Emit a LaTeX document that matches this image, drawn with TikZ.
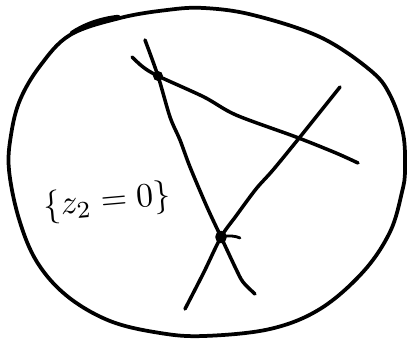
\documentclass[tikz,border=0pt]{standalone}
\usepackage{tikz}
\usetikzlibrary{calc}

\begin{document}
\begin{tikzpicture}[x=0.03cm, y=-0.03cm, line cap=round, line join=round,
  pen/.style={line width=3pt, black},
  dot/.style={circle, fill=black, inner sep=0pt, minimum size=0.3cm}]
  \useasboundingbox (0,0) rectangle (407,339);
  % oval
  \draw[pen, line width=3.2pt] plot[smooth cycle, tension=0.6] coordinates {(70,35) (120,18) (167,10) (204,8) (253,15) (320,37) (370,70) (390,95) (403,133) (405,170) (402,192) (390,232) (363,272) (320,309) (270,329) (204,336) (160,333) (110,321) (67,296) (37,262) (19,219) (9,170) (11,135) (20,100) (40,66)};
  \draw[line width=3.8pt] (72,33) .. controls (84,25) and (100,19) .. (118,17);
  % points
  \coordinate (p) at (158,76);
  \coordinate (q) at (221,237);
  % lines
  \draw[pen] plot[smooth, tension=0.5] coordinates {(145,40) (p) (170,117) (180,140) (190,167) (207,207) (q) (236,269) (243,282) (255,294)};
  \draw[pen] plot[smooth, tension=0.5] coordinates {(132,57) (143,67) (p) (204,97) (236,115) (296,137) (336,153) (358,163)};
  \draw[pen] plot[smooth, tension=0.5] coordinates {(340,87) (300,137) (273,170) (256,189) (236,216) (q) (204,272) (185,309)};
  \node[dot] (pdot) at (p) {};
  \draw[pen] (q) ellipse (4 and 4.5);
  \draw[line width=2.4pt] (q) .. controls (228,235) and (236,236) .. (240,238);
  % label
  \node[rotate=5, scale=2.9] (lab) at (107,202) {$\{z_2=0\}$};
\end{tikzpicture}
\end{document}
